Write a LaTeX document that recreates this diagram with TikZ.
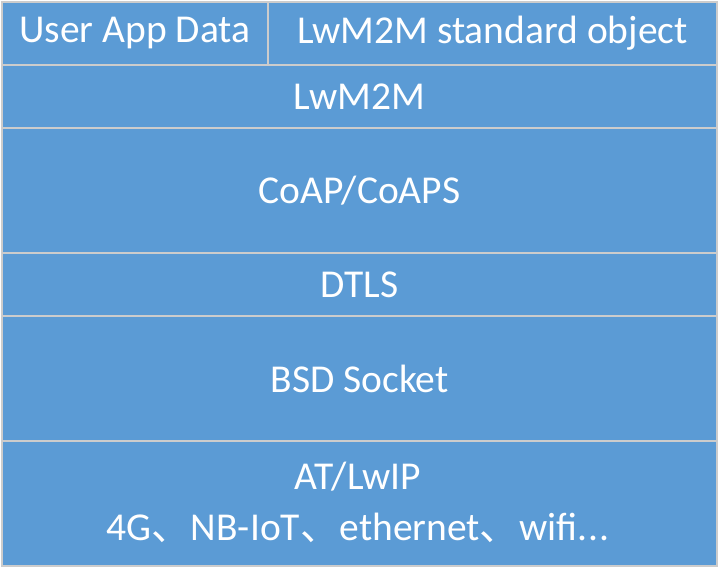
\documentclass[tikz,border=0pt]{standalone}
\usepackage{fontspec}
\setmainfont{Carlito}
\newfontfamily\cjkfont{Noto Sans CJK SC}
\definecolor{layerblue}{HTML}{5B9BD5}
\definecolor{layeredge}{HTML}{CCCCCC}
\newcommand{\dun}{{\cjkfont 、}}
\begin{document}
\begin{tikzpicture}[x=1pt,y=-1pt,
  layertext/.style={text=white,font=\fontsize{39.5}{47}\selectfont,inner sep=0pt,align=center},
  layer/.style={layertext,draw=layeredge,line width=2pt,fill=layerblue}]
\useasboundingbox (0,0) rectangle (719,569);
% stack of protocol layers, top to bottom
\node[layer,minimum width=266pt,minimum height=63pt,anchor=north west] (app) at (1,1) {User App Data};
\node[layer,minimum width=449pt,minimum height=63pt,anchor=north west] (obj) at (267,1) {LwM2M standard object};
\node[layer,minimum width=715pt,minimum height=63pt,anchor=north west] (lwm2m) at (1,64) {LwM2M};
\node[layer,minimum width=715pt,minimum height=125pt,anchor=north west] (coap) at (1,127) {CoAP/CoAPS};
\node[layer,minimum width=715pt,minimum height=63pt,anchor=north west] (dtls) at (1,252) {DTLS};
\node[layer,minimum width=715pt,minimum height=125pt,anchor=north west] (bsd) at (1,315) {BSD Socket};
\node[layer,minimum width=715pt,minimum height=125pt,anchor=north west] (at) at (1,440) {};
\node[layertext] (atl1) at (358,477) {AT/LwIP};
\node[layertext] (atl2) at (358,528) {4G\dun NB-IoT\dun ethernet\dun wifi.\kern1pt.\kern1pt.};
\end{tikzpicture}
\end{document}
